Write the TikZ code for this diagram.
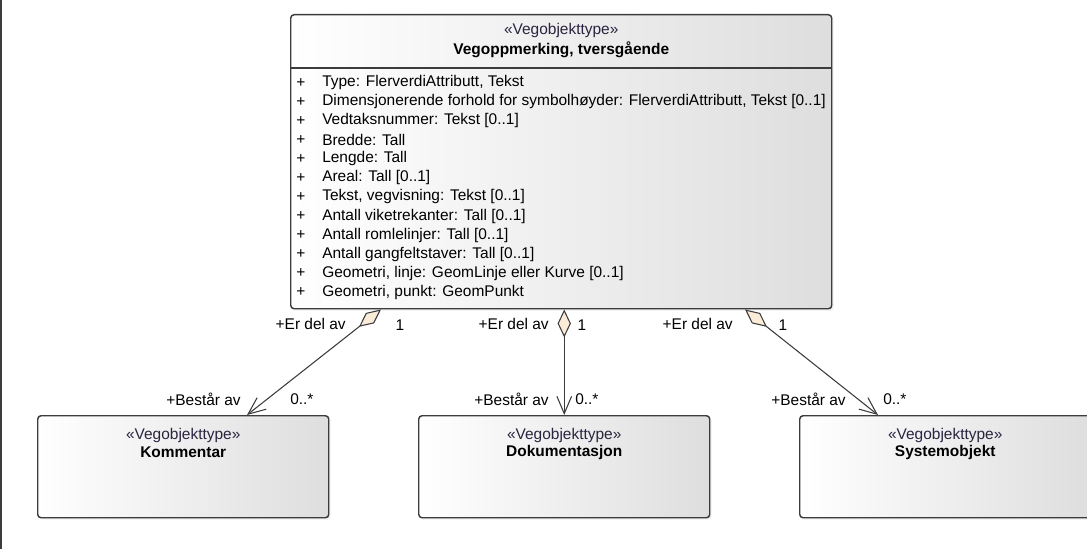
\documentclass[tikz,border=0pt]{standalone}
\usepackage{fontspec}
\setmainfont{Liberation Sans}
\usetikzlibrary{arrows.meta,shadows,positioning}
\definecolor{kant}{HTML}{3C3C3C}
\definecolor{rombe}{HTML}{FBEBD9}
\definecolor{stereo}{HTML}{2B2440}

\begin{document}
\begin{tikzpicture}[x=0.75pt,y=-0.75pt,font=\fontsize{11.6}{13}\selectfont,
    klasse/.style={draw=kant,line width=1.1pt,rounded corners=2.5pt,
      left color=white,right color=black!13,anchor=north west,inner sep=0pt,
      drop shadow={opacity=0.12,shadow xshift=1.5pt,shadow yshift=-1.5pt}},
    liten/.style={klasse,minimum width=218.25pt,minimum height=76.5pt},
    del/.style={draw=kant,line width=0.8pt,
      {Diamond[length=21pt,width=10pt,fill=rombe]}-{Straight Barb[length=13pt,width=11pt]}},
    rolle/.style={inner sep=0pt,anchor=east},
    mult/.style={inner sep=0pt}]
  \useasboundingbox (0,0) rectangle (1087,549);
  \draw[kant,line width=1.5pt] (1,0) -- (1,549);

  \node[klasse,minimum width=405.75pt,minimum height=220.5pt] (vego) at (290,14) {};
  \draw[kant,line width=1.1pt] (vego.west |- 0,68) -- (vego.east |- 0,68);
  \node[text=stereo] (vstereo) at (vego.north |- 0,31) {«Vegobjekttype»};
  \node[font=\fontsize{11.6}{13}\selectfont\bfseries] (vnavn) at (vego.north |- 0,50) {Vegoppmerking, tversgående};
  \foreach \a [count=\i] in {{Type: FlerverdiAttributt, Tekst},
      {Dimensjonerende forhold for symbolhøyder: FlerverdiAttributt, Tekst [0..1]},
      {Vedtaksnummer: Tekst [0..1]}, {Bredde: Tall}, {Lengde: Tall}, {Areal: Tall [0..1]},
      {Tekst, vegvisning: Tekst [0..1]}, {Antall viketrekanter: Tall [0..1]},
      {Antall romlelinjer: Tall [0..1]}, {Antall gangfeltstaver: Tall [0..1]},
      {Geometri, linje: GeomLinje eller Kurve [0..1]}, {Geometri, punkt: GeomPunkt}}{
    \node[anchor=west,inner sep=0pt] (p\i) at (296,64+19*\i) {+};
    \node[anchor=west,inner sep=0pt] (a\i) at (322,64+19*\i) {\a};
  }

  \node[liten] (komm) at (37,415) {};
  \node[liten] (dok) at (418,415) {};
  \node[liten] (sys) at (799,415) {};
  \foreach \n/\t in {komm/Kommentar,dok/Dokumentasjon,sys/Systemobjekt}{
    \node[text=stereo] (\n-s) at (\n.north |- 0,435) {«Vegobjekttype»};
    \node[font=\fontsize{11.6}{13}\selectfont\bfseries] (\n-t) at (\n.north |- 0,452) {\t};
  }

  \draw[del] ([xshift=68.25pt]vego.south west) -- ([xshift=157.5pt]komm.north west);
  \draw[del] (vego.south -| dok.north) -- (dok.north);
  \draw[del] ([xshift=341.25pt]vego.south west) -- ([xshift=59.25pt]sys.north west);

  \node[rolle] (r1) at (346,324) {+Er del av};
  \node[rolle] (r2) at (549,324) {+Er del av};
  \node[rolle] (r3) at (733,324) {+Er del av};
  \node[mult] (m1) at (400,325) {1};
  \node[mult] (m2) at (582,325) {1};
  \node[mult] (m3) at (783,325) {1};
  \node[rolle] (b1) at (241,399) {+Består av};
  \node[rolle] (b2) at (549,399) {+Består av};
  \node[rolle] (b3) at (846,399) {+Består av};
  \node[mult,anchor=west] (n1) at (290,399) {0..*};
  \node[mult,anchor=west] (n2) at (575,399) {0..*};
  \node[mult,anchor=west] (n3) at (883,399) {0..*};
\end{tikzpicture}
\end{document}
